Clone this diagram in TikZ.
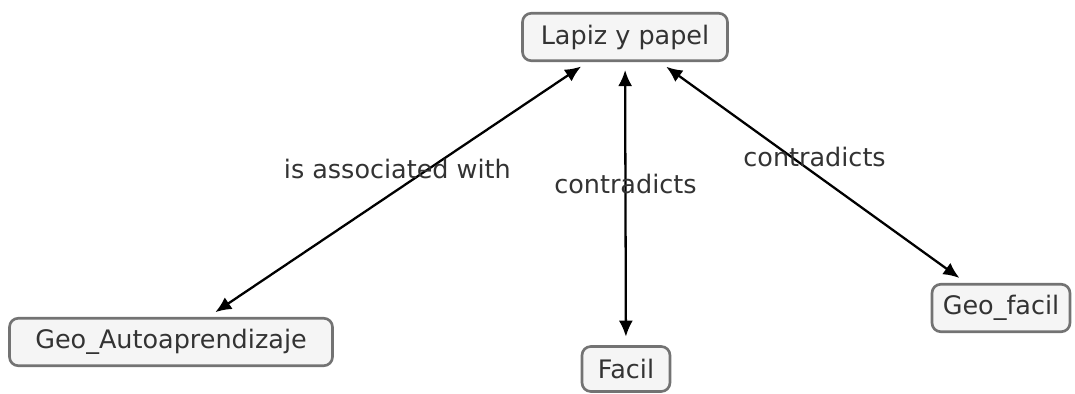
\documentclass[tikz,border=0pt]{standalone}
\usepackage{fontspec}
\setmainfont{DejaVu Sans}
\usetikzlibrary{arrows.meta}

\begin{document}
\begin{tikzpicture}[
    x=0.02cm, y=-0.02cm,
    concept/.style={
        rectangle,
        rounded corners=5pt,
        draw=black!55,
        line width=1.5pt,
        fill=gray!8,
        text=black!80,
        minimum height=0.95cm,
        font=\fontsize{14.5}{17}\selectfont
    },
    link/.style={
        line width=1.3pt,
        {Latex[length=3.2mm,width=2.8mm]}-{Latex[length=3.2mm,width=2.8mm]},
        shorten <=0.16cm,
        shorten >=0.17cm
    },
    linklabel/.style={
        text=black!80,
        font=\fontsize{14.5}{17}\selectfont
    }
]

% Canvas
\useasboundingbox (0, 0) rectangle (1075, 394);

% Concepts
\node[concept, minimum width=4.1cm] (lapiz) at (625, 37) {Lapiz y papel};
\node[concept, minimum width=6.46cm] (geoauto) at (171, 342) {Geo\_Autoaprendizaje};
\node[concept, minimum width=1.76cm, minimum height=0.9cm] (facil) at (626, 369) {Facil};
\node[concept, minimum width=2.76cm] (geofacil) at (1001, 308) {Geo\_facil};

% Links with their phrases
\draw[link] (lapiz) -- node[linklabel, pos=0.42, xshift=-0.62cm] {is associated with} (geoauto);
\draw[link] (lapiz) -- node[linklabel, pos=0.43] {contradicts} (facil);
\draw[link] (lapiz) -- node[linklabel, pos=0.43, xshift=0.46cm] {contradicts} (geofacil);

\end{tikzpicture}
\end{document}
